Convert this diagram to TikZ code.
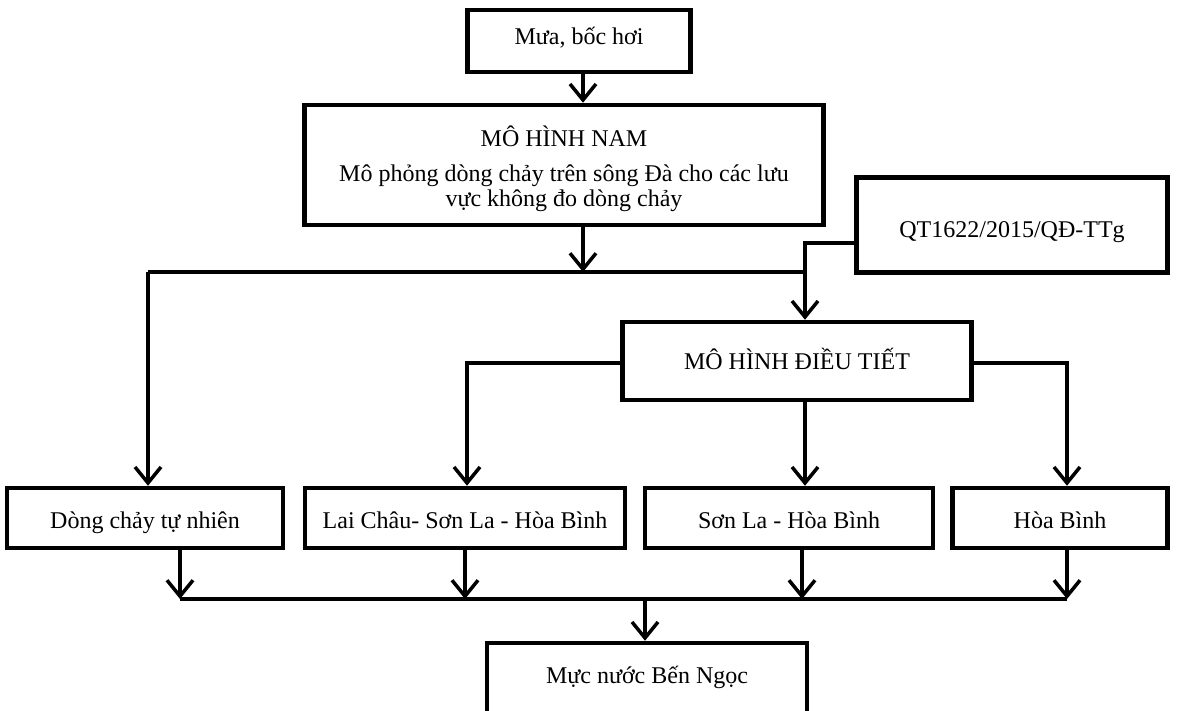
\documentclass[tikz,border=0pt]{standalone}
\usepackage{fontspec}
\setmainfont{Liberation Serif}
\usetikzlibrary{arrows.meta}

\begin{document}
\begin{tikzpicture}[x=1pt,y=-1pt,
    every node/.style={font=\fontsize{24}{25}\selectfont},
    frame/.style={draw,line width=4.5pt,inner sep=0pt,align=center},
    box/.style={frame,text height=18pt,text depth=6pt},
    lower/.style={box,minimum height=60pt,text height=24pt,text depth=3pt},
    link/.style={line width=3.5pt},
    arr/.style={link,-{Straight Barb[length=16pt,width=26pt,line width=3.5pt]}}]
  \clip (0,0) rectangle (1180,711);
  % boxes
  \node[box,minimum width=223pt,minimum height=62pt,text height=14pt] (mua) at (579,41) {Mưa, bốc hơi};
  \node[frame,minimum width=519pt,minimum height=120pt] (nam) at (564,165)
    {\rule{0pt}{29pt}MÔ HÌNH NAM\\[10pt]Mô phỏng dòng chảy trên sông Đà cho các lưu\\vực không đo dòng chảy};
  \node[box,minimum width=311pt,minimum height=95pt,text height=26pt,text depth=0pt] (qt) at (1012,225) {QT1622/2015/QĐ-TTg};
  \node[box,minimum width=349pt,minimum height=78pt,text height=20pt,text depth=4pt] (dieutiet) at (797,361) {MÔ HÌNH ĐIỀU TIẾT};
  \node[lower,minimum width=276pt] (tunhien) at (145,518) {Dòng chảy tự nhiên};
  \node[lower,minimum width=320pt] (laichau) at (465,518) {Lai Châu- Sơn La - Hòa Bình};
  \node[lower,minimum width=288pt] (sonla) at (789,518) {Sơn La - Hòa Bình};
  \node[lower,minimum width=215pt] (hoabinh) at (1060,518) {Hòa Bình};
  \node[box,minimum width=320pt,minimum height=88pt,text depth=26pt] (bengoc) at (647,687) {Mực nước Bến Ngọc};

  % junctions
  \coordinate (j1) at (583,272);
  \coordinate (k) at (805,243);
  \coordinate (l) at (467,363);
  \coordinate (r) at (1067,363);
  \coordinate (b1) at (180,599);
  \coordinate (b2) at (465,599);
  \coordinate (b3) at (802,599);
  \coordinate (b4) at (1067,599);
  \coordinate (b0) at (645,599);

  % connectors
  \draw[arr] (mua.south -| j1) -- (nam.north -| j1);
  \draw[arr] (nam.south -| j1) -- (j1);
  \draw[link] (148,272) -- (j1 -| k);
  \draw[arr] (148,272) -- (tunhien.north -| 148,0);
  \draw[arr] (qt.west |- k) -| (dieutiet.north -| k);
  \draw[arr] (dieutiet.west |- l) -| (laichau.north -| l);
  \draw[arr] (dieutiet.south -| k) -- (sonla.north -| k);
  \draw[arr] (dieutiet.east |- r) -| (hoabinh.north -| r);
  \draw[arr] (tunhien.south -| b1) -- (b1);
  \draw[arr] (laichau.south -| b2) -- (b2);
  \draw[arr] (sonla.south -| b3) -- (b3);
  \draw[arr] (hoabinh.south -| b4) -- (b4);
  \draw[link] (b1) -- (b4);
  \draw[arr] (b0) -- (bengoc.north -| b0);
\end{tikzpicture}
\end{document}
